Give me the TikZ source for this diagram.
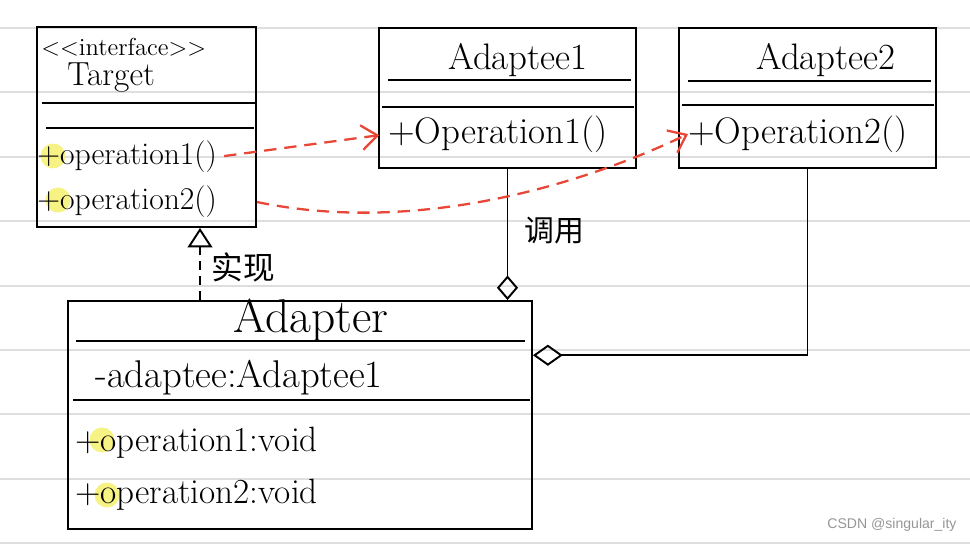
\documentclass[tikz,border=0pt]{standalone}
\usepackage{fontspec}
\newfontfamily\cjk{Noto Sans CJK SC}
\newfontfamily\wmfont{Liberation Sans}
\usetikzlibrary{arrows.meta,calc}

\definecolor{paperline}{RGB}{222,222,222}
\definecolor{hilite}{RGB}{246,240,110}
\definecolor{callred}{RGB}{232,70,55}
\definecolor{markgrey}{RGB}{150,150,150}

\tikzset{
  classbox/.style 2 args={draw, line width=1.1pt, minimum width=#1, minimum height=#2, inner sep=0pt},
  member/.style={anchor=west, inner sep=0pt, font=\fontsize{#1}{#1}\selectfont},
  classname/.style={inner sep=0pt, font=\fontsize{#1}{#1}\selectfont},
  cjklabel/.style={inner sep=0pt, font=\cjk\fontsize{#1}{#1}\selectfont},
  hlspot/.style={circle, fill=hilite, opacity=0.85, minimum size=0.5cm, inner sep=0pt},
  realize/.style={line width=1.5pt, dash pattern=on 5pt off 3.5pt,
    -{Triangle[open, length=11pt, width=14pt, line width=1.1pt]}},
  aggr/.style={line width=1.1pt, -{Diamond[open, length=#1, width=12pt, line width=1.1pt]}},
  callarrow/.style={callred, line width=1.3pt, dash pattern=on 7pt off 4.5pt,
    -{Straight Barb[length=9pt, width=14pt, line width=1.3pt]}}
}

\begin{document}
\begin{tikzpicture}[x=0.02cm, y=-0.02cm]
\useasboundingbox (0,0) rectangle (970,544);

\foreach \y in {28,92.4,...,545}
  \draw[paperline, line width=1.1pt] (0,\y) -- (970,\y);

\node[hlspot] (hl1) at (53,156) {};
\node[hlspot] (hl2) at (58,200) {};
\node[hlspot] (hl3) at (102,440) {};
\node[hlspot] (hl4) at (107,495) {};

\node[classbox={4.38cm}{4.0cm}] (Target) at (146.5,127) {};
\node[classbox={5.14cm}{2.8cm}] (Adaptee1) at (507.5,98) {};
\node[classbox={5.14cm}{2.8cm}] (Adaptee2) at (807.5,98) {};
\node[classbox={9.28cm}{4.56cm}] (Adapter) at (300,415) {};

\draw[line width=1.1pt] (42,103) -- (255,103);
\draw[line width=1.1pt] (46,128) -- (254,128);
\draw[line width=1.1pt] (388,80) -- (631,80);
\draw[line width=1.1pt] (382,107) -- (634,107);
\draw[line width=1.1pt] (688,81) -- (931,81);
\draw[line width=1.1pt] (682,105) -- (934,105);
\draw[line width=1.1pt] (76,341) -- (525,341);
\draw[line width=1.1pt] (73,400) -- (530,400);

\node[member=14] (stereo) at (41,47) {<{}<interface>{}>};
\node[member=19] (tgtname) at (67,78) {Target};
\node[member=18] (tgtop1) at (37,157) {+operation1()};
\node[member=18] (tgtop2) at (37,202) {+operation2()};

\node[classname=21] (ad1name) at (518,60) {Adaptee1};
\node[member=21] (ad1op) at (388,134) {+Operation1()};
\node[classname=21] (ad2name) at (826,60) {Adaptee2};
\node[member=21] (ad2op) at (688,134) {+Operation2()};

\node[classname=27] (adname) at (311,320) {Adapter};
\node[member=22] (adfield) at (95,378) {-adaptee:Adaptee1};
\node[member=20] (adop1) at (75,443) {+operation1:void};
\node[member=20] (adop2) at (75,495) {+operation2:void};

\coordinate (implx) at (200,0);
\draw[realize] (Adapter.north -| implx) -- (Target.south -| implx);
\node[cjklabel=18] (implLbl) at (243,267) {实现};

\draw[aggr=14pt] (Adaptee1.south) -- (Adaptee1.south |- Adapter.north);
\node[cjklabel=17] (callLbl) at (554,231) {调用};
\draw[aggr=17pt] (Adaptee2.south) |- ($(Adapter.north east)!0.24!(Adapter.south east)$);

\draw[callarrow, shorten <=4pt, shorten >=5pt] (tgtop1.east) -- (ad1op.west);
\draw[callarrow] (Target.east |- tgtop2.east) .. controls (400,232) and (560,195) .. (ad2op.west);

\node[inner sep=0pt, text=markgrey, font=\wmfont\fontsize{8}{9}\selectfont] (credit) at (892,525) {CSDN @singular\_ity};
\end{tikzpicture}
\end{document}
